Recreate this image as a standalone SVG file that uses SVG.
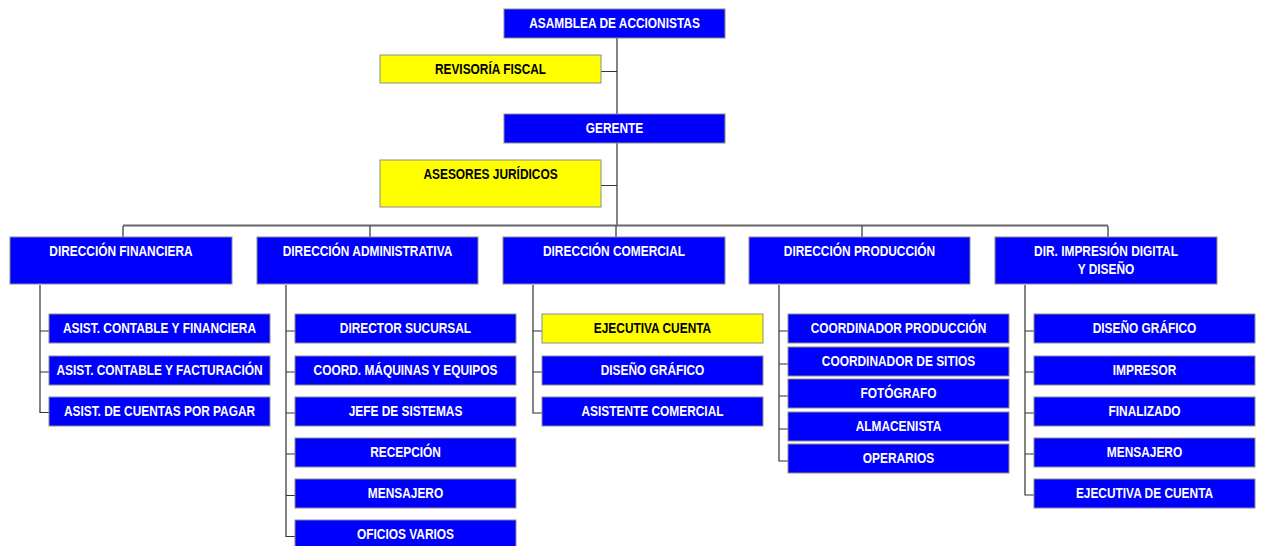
<svg xmlns="http://www.w3.org/2000/svg" width="1263" height="546" viewBox="0 0 1263 546">
<style>
.b{fill:#0000ff;stroke:#8c8c8c;stroke-width:1}
.y{fill:#ffff00;stroke:#8c8c8c;stroke-width:1}
text{font-family:"Liberation Sans",Arial,sans-serif;font-weight:bold;font-size:14px;text-anchor:middle}
.w{fill:#ffffff}
.k{fill:#000000}
.c{fill:none;stroke:#333;stroke-width:1.2}
.bus{fill:none;stroke:#666;stroke-width:2}
</style>
<rect width="1263" height="546" fill="#ffffff"/>
<g id="connectors">
<path class="c" d="M617,38V226M601,71.5H617M601,185.5H617"/>
<path class="bus" d="M123,225.5H1108"/>
<path class="c" d="M123,226V237M370,226V237M616,226V237M862,226V237M1108,226V237"/>
<path class="c" d="M40,285V412.5H49M40,331H49M40,372H49"/>
<path class="c" d="M286,285V536.5H295M286,331H295M286,372H295M286,413H295M286,454H295M286,495.5H295"/>
<path class="c" d="M533,285V413H542M533,331H542M533,372H542"/>
<path class="c" d="M779,285V461H788M779,331H788M779,364H788M779,396H788M779,429H788"/>
<path class="c" d="M1025,285V495H1034M1025,331H1034M1025,372H1034M1025,413H1034M1025,454H1034"/>
</g>
<g id="asamblea"><rect class="b" x="504" y="9" width="221" height="29"/><text class="w" transform="translate(614.5,28) scale(0.85,1)">ASAMBLEA DE ACCIONISTAS</text></g>
<g id="revisoria"><rect class="y" x="380" y="55" width="221" height="28"/><text class="k" transform="translate(490.5,74) scale(0.85,1)">REVISORÍA FISCAL</text></g>
<g id="gerente"><rect class="b" x="504" y="114" width="221" height="29"/><text class="w" transform="translate(614.5,133) scale(0.85,1)">GERENTE</text></g>
<g id="asesores"><rect class="y" x="380" y="160" width="221" height="47"/><text class="k" transform="translate(490.5,179) scale(0.85,1)">ASESORES JURÍDICOS</text></g>
<g id="dir-financiera"><rect class="b" x="10" y="237" width="222" height="47"/><text class="w" transform="translate(121,256) scale(0.85,1)">DIRECCIÓN FINANCIERA</text></g>
<g id="dir-administrativa"><rect class="b" x="257" y="237" width="221" height="47"/><text class="w" transform="translate(367.5,256) scale(0.85,1)">DIRECCIÓN ADMINISTRATIVA</text></g>
<g id="dir-comercial"><rect class="b" x="503" y="237" width="222" height="47"/><text class="w" transform="translate(614,256) scale(0.85,1)">DIRECCIÓN COMERCIAL</text></g>
<g id="dir-produccion"><rect class="b" x="749" y="237" width="221" height="47"/><text class="w" transform="translate(859.5,256) scale(0.85,1)">DIRECCIÓN PRODUCCIÓN</text></g>
<g id="dir-impresion"><rect class="b" x="995" y="237" width="222" height="47"/><text class="w" transform="translate(1106,256) scale(0.85,1)">DIR. IMPRESIÓN DIGITAL</text><text class="w" transform="translate(1106,274) scale(0.85,1)">Y DISEÑO</text></g>
<g id="fin-1"><rect class="b" x="49" y="314" width="221" height="29"/><text class="w" transform="translate(159.5,333) scale(0.85,1)">ASIST. CONTABLE Y FINANCIERA</text></g>
<g id="fin-2"><rect class="b" x="49" y="356" width="221" height="29"/><text class="w" transform="translate(159.5,375) scale(0.85,1)">ASIST. CONTABLE Y FACTURACIÓN</text></g>
<g id="fin-3"><rect class="b" x="49" y="397" width="221" height="29"/><text class="w" transform="translate(159.5,416) scale(0.85,1)">ASIST. DE CUENTAS POR PAGAR</text></g>
<g id="adm-1"><rect class="b" x="295" y="314" width="221" height="29"/><text class="w" transform="translate(405.5,333) scale(0.85,1)">DIRECTOR SUCURSAL</text></g>
<g id="adm-2"><rect class="b" x="295" y="356" width="221" height="29"/><text class="w" transform="translate(405.5,375) scale(0.85,1)">COORD. MÁQUINAS Y EQUIPOS</text></g>
<g id="adm-3"><rect class="b" x="295" y="397" width="221" height="29"/><text class="w" transform="translate(405.5,416) scale(0.85,1)">JEFE DE SISTEMAS</text></g>
<g id="adm-4"><rect class="b" x="295" y="438" width="221" height="29"/><text class="w" transform="translate(405.5,457) scale(0.85,1)">RECEPCIÓN</text></g>
<g id="adm-5"><rect class="b" x="295" y="479" width="221" height="29"/><text class="w" transform="translate(405.5,498) scale(0.85,1)">MENSAJERO</text></g>
<g id="adm-6"><rect class="b" x="295" y="520" width="221" height="29"/><text class="w" transform="translate(405.5,539) scale(0.85,1)">OFICIOS VARIOS</text></g>
<g id="com-1"><rect class="y" x="542" y="314" width="221" height="29"/><text class="k" transform="translate(652.5,333) scale(0.85,1)">EJECUTIVA CUENTA</text></g>
<g id="com-2"><rect class="b" x="542" y="356" width="221" height="29"/><text class="w" transform="translate(652.5,375) scale(0.85,1)">DISEÑO GRÁFICO</text></g>
<g id="com-3"><rect class="b" x="542" y="397" width="221" height="29"/><text class="w" transform="translate(652.5,416) scale(0.85,1)">ASISTENTE COMERCIAL</text></g>
<g id="pro-1"><rect class="b" x="788" y="314" width="221" height="29"/><text class="w" transform="translate(898.5,333) scale(0.85,1)">COORDINADOR PRODUCCIÓN</text></g>
<g id="pro-2"><rect class="b" x="788" y="347" width="221" height="29"/><text class="w" transform="translate(898.5,366) scale(0.85,1)">COORDINADOR DE SITIOS</text></g>
<g id="pro-3"><rect class="b" x="788" y="379" width="221" height="29"/><text class="w" transform="translate(898.5,398) scale(0.85,1)">FOTÓGRAFO</text></g>
<g id="pro-4"><rect class="b" x="788" y="412" width="221" height="29"/><text class="w" transform="translate(898.5,431) scale(0.85,1)">ALMACENISTA</text></g>
<g id="pro-5"><rect class="b" x="788" y="444" width="221" height="29"/><text class="w" transform="translate(898.5,463) scale(0.85,1)">OPERARIOS</text></g>
<g id="imp-1"><rect class="b" x="1034" y="314" width="221" height="29"/><text class="w" transform="translate(1144.5,333) scale(0.85,1)">DISEÑO GRÁFICO</text></g>
<g id="imp-2"><rect class="b" x="1034" y="356" width="221" height="29"/><text class="w" transform="translate(1144.5,375) scale(0.85,1)">IMPRESOR</text></g>
<g id="imp-3"><rect class="b" x="1034" y="397" width="221" height="29"/><text class="w" transform="translate(1144.5,416) scale(0.85,1)">FINALIZADO</text></g>
<g id="imp-4"><rect class="b" x="1034" y="438" width="221" height="29"/><text class="w" transform="translate(1144.5,457) scale(0.85,1)">MENSAJERO</text></g>
<g id="imp-5"><rect class="b" x="1034" y="479" width="221" height="29"/><text class="w" transform="translate(1144.5,498) scale(0.85,1)">EJECUTIVA DE CUENTA</text></g>
</svg>
